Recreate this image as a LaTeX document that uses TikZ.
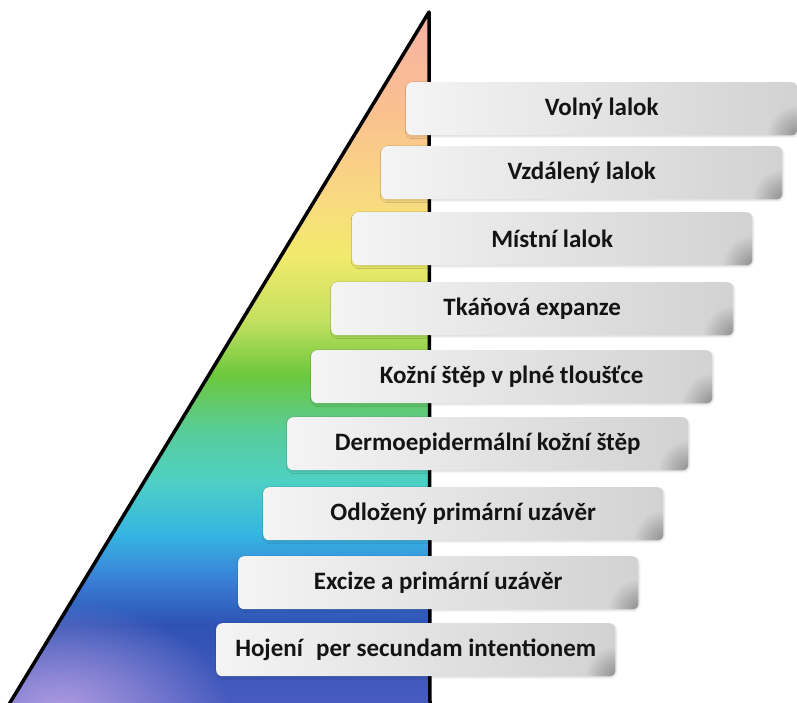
\documentclass[tikz,border=0pt]{standalone}
\usepackage{fontspec}
\setmainfont{Carlito}
\usetikzlibrary{fadings,shadows.blur}
\tikzfading[name=cornerfade, inner color=transparent!0, outer color=transparent!100]
\definecolor{c01}{HTML}{F7B1A5}
\definecolor{c02}{HTML}{FAC090}
\definecolor{c03}{HTML}{F9DA80}
\definecolor{c04}{HTML}{F2EA6C}
\definecolor{c05}{HTML}{C4E060}
\definecolor{c06}{HTML}{6CC83C}
\definecolor{c07}{HTML}{58CC98}
\definecolor{c08}{HTML}{4ED0C4}
\definecolor{c09}{HTML}{36B4E2}
\definecolor{c10}{HTML}{3A7ED6}
\definecolor{c11}{HTML}{2E52B4}
\definecolor{c12}{HTML}{4A5CC0}
\definecolor{purp}{HTML}{B8A0E4}
\definecolor{boxl}{HTML}{F4F4F4}
\definecolor{boxr}{HTML}{D2D2D2}
\begin{document}
\begin{tikzpicture}[x=1pt,y=-1pt,
  box/.style={rectangle, rounded corners=6pt, left color=boxl, right color=boxr,
    minimum height=53pt, anchor=north west, inner sep=0pt,
    font=\bfseries\fontsize{25}{28}\selectfont, text=black!92,
    blur shadow={shadow xshift=1pt, shadow yshift=-1.5pt, shadow opacity=15, shadow blur steps=6}},
  outline/.style={line width=3.5pt, line join=round, line cap=round, black}]
\useasboundingbox (0,0) rectangle (797,702);
% triangle fill
\coordinate (apex) at (429,12);
\coordinate (bl) at (8,706);
\coordinate (br) at (430,706);
\begin{scope}
\clip (apex) -- (bl) -- (br) -- cycle;
\shade[top color=c01, bottom color=c02] (0,10) rectangle (440,110.5);
\shade[top color=c02, bottom color=c03] (0,110) rectangle (440,200.5);
\shade[top color=c03, bottom color=c04] (0,200) rectangle (440,255.5);
\shade[top color=c04, bottom color=c05] (0,255) rectangle (440,320.5);
\shade[top color=c05, bottom color=c06] (0,320) rectangle (440,375.5);
\shade[top color=c06, bottom color=c07] (0,375) rectangle (440,430.5);
\shade[top color=c07, bottom color=c08] (0,430) rectangle (440,480.5);
\shade[top color=c08, bottom color=c09] (0,480) rectangle (440,535.5);
\shade[top color=c09, bottom color=c10] (0,535) rectangle (440,580.5);
\shade[top color=c10, bottom color=c11] (0,580) rectangle (440,625.5);
\shade[top color=c11, bottom color=c12] (0,625) rectangle (440,710);
\fill[purp, path fading=cornerfade, fill opacity=0.95] (60,712) ellipse (170 and 110);
\end{scope}
% outline
\draw[outline] (bl) -- (apex) -- (br);
% boxes
\node[box, minimum width=391pt] (b1) at (406,82) {Volný lalok};
\node[box, minimum width=401pt] (b2) at (381,146) {Vzdálený lalok};
\node[box, minimum width=400pt] (b3) at (352,212) {Místní lalok};
\node[box, minimum width=402pt] (b4) at (331,282) {Tkáňová expanze};
\node[box, minimum width=401pt] (b5) at (311,350) {Kožní štěp v plné tloušťce};
\node[box, minimum width=401pt] (b6) at (287,417) {Dermoepidermální kožní štěp};
\node[box, minimum width=400pt] (b7) at (263,487) {Odložený primární uzávěr};
\node[box, minimum width=400pt] (b8) at (238,556) {Excize a primární uzávěr};
\node[box, minimum width=399pt] (b9) at (216,623) {Hojení\hspace{0.3em} per secundam intentionem};
% dark corner shading
\foreach \b in {b1,b2,b3,b4,b5,b6,b7,b8,b9}{
  \begin{scope}
  \clip[rounded corners=6pt] (\b.north west) rectangle (\b.south east);
  \fill[black!70, path fading=cornerfade, fill opacity=0.5] (\b.south east) circle (30);
  \end{scope}
}
\end{tikzpicture}
\end{document}
